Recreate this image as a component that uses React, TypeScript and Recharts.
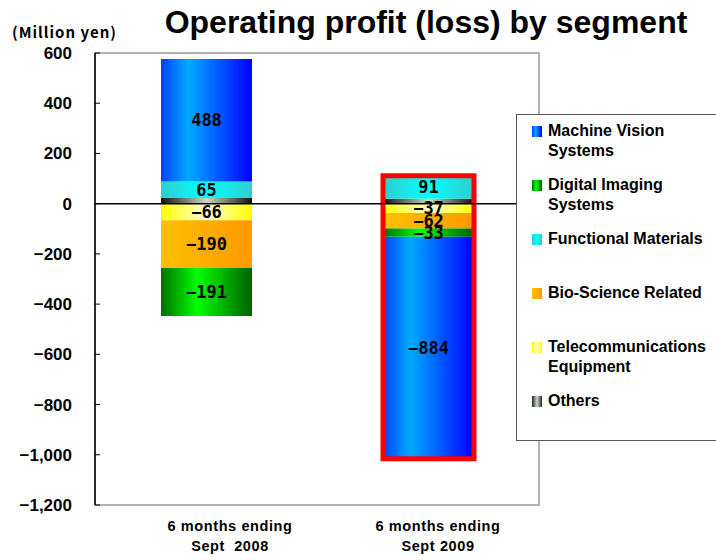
import React from "react";
import { Bar, BarChart, LabelList, ReferenceArea, ReferenceLine, XAxis, YAxis } from "recharts";

const periodLine1 = ["6 months ending", "6 months ending"];
const periodLine2 = ["Sept\u00a0\u00a02008", "Sept 2009"];
const periods = ["H1 FY2008", "H1 FY2009"];

const machineVision = [488, -884];
const digitalImaging = [-191, -33];
const functionalMaterials = [65, 91];
const bioScience = [-190, -62];
const telecom = [-66, -37];
const others = [23, 20];

const highlighted = 1;
const yTicks = [600, 400, 200, 0, -200, -400, -600, -800, -1000, -1200];

const legendItems = [
  { key: "mv", label: ["Machine Vision", "Systems"], bg: "linear-gradient(90deg,#0040ff,#00aaff 35%,#0000ff)" },
  { key: "di", label: ["Digital Imaging", "Systems"], bg: "linear-gradient(90deg,#007000,#00ff00 40%,#006000)" },
  { key: "fm", label: ["Functional Materials"], bg: "linear-gradient(90deg,#33cccc,#00ffff 50%,#33cccc)" },
  { key: "bio", label: ["Bio-Science Related"], bg: "linear-gradient(90deg,#ffc000,#ff9900)" },
  { key: "tel", label: ["Telecommunications", "Equipment"], bg: "linear-gradient(90deg,#ffff00,#ffffcc 50%,#ffff00)" },
  { key: "oth", label: ["Others"], bg: "linear-gradient(90deg,#222,#c8dcc0 50%,#222)" },
];
const legendTops = [125, 179, 233, 287, 341, 395];

const data = periods.map((p, i) => {
  const vals = [machineVision[i], digitalImaging[i], functionalMaterials[i], bioScience[i], telecom[i], others[i]];
  const pos = vals.filter((v) => v > 0).reduce((a, b) => a + b, 0);
  const neg = vals.filter((v) => v < 0).reduce((a, b) => a + b, 0);
  return {
    period: p,
    mv: machineVision[i],
    di: digitalImaging[i],
    fm: functionalMaterials[i],
    bio: bioScience[i],
    tel: telecom[i],
    oth: others[i],
    frame: i === highlighted ? [neg, pos] : null,
  };
});

const fmt = (v: number) => (v < 0 ? "\u2212" : "") + Math.abs(v).toLocaleString("en-US");

const labelStyle = {
  fill: "#000",
  fontSize: 17,
  fontWeight: "bold",
  fontFamily: "DejaVu Sans Mono",
};

const tickDx = [24, 10];

const CategoryTick = (props: any) => {
  const { x, y, index } = props;
  const cx = x + tickDx[index];
  return (
    <text
      x={cx}
      y={y}
      textAnchor="middle"
      fontFamily="Liberation Sans, Arial"
      fontWeight="bold"
      fontSize={14.5}
      letterSpacing={0.6}
      fill="#000"
    >
      <tspan x={cx} dy={18}>{periodLine1[index]}</tspan>
      <tspan x={cx} dy={20}>{periodLine2[index]}</tspan>
    </text>
  );
};

const grad = (id: string, stops: [string, string][]) => (
  <linearGradient id={id} x1="0" y1="0" x2="1" y2="0">
    {stops.map(([o, c]) => (
      <stop key={o} offset={o} stopColor={c} />
    ))}
  </linearGradient>
);

export default function App() {
  return (
    <div style={{ position: "relative", width: 716, height: 560, background: "#fff" }}>
      <style>{"body{margin:0}"}</style>
      <BarChart
        width={716}
        height={560}
        data={data}
        stackOffset="sign"
        margin={{ top: 53, right: 177, left: 0, bottom: 0 }}
      >
        <defs>
          {grad("gMv", [["0", "#0040ff"], ["0.3", "#00aaff"], ["1", "#0000ff"]])}
          {grad("gDi", [["0", "#007000"], ["0.4", "#00ff00"], ["1", "#006000"]])}
          {grad("gFm", [["0", "#33cccc"], ["0.5", "#00ffff"], ["1", "#33cccc"]])}
          {grad("gBio", [["0", "#ffc000"], ["1", "#ff9900"]])}
          {grad("gTel", [["0", "#ffff00"], ["0.5", "#ffffcc"], ["1", "#ffff00"]])}
          {grad("gOth", [["0", "#111111"], ["0.5", "#c8dcc0"], ["1", "#111111"]])}
        </defs>
        <ReferenceArea x1={periods[0]} x2={periods[1]} y1={-1200} y2={600} fill="none" stroke="#999" strokeWidth={1.5} />
        <XAxis dataKey="period" height={55} axisLine={false} tickLine={false} tick={<CategoryTick />} interval={0} />
        <XAxis dataKey="period" xAxisId="frame" hide />
        <YAxis
          width={95}
          domain={[-1200, 600]}
          ticks={yTicks}
          interval={0}
          tickFormatter={fmt}
          tickSize={-5}
          tickMargin={28}
          axisLine={{ stroke: "#000", strokeWidth: 1.5 }}
          tickLine={{ stroke: "#000" }}
          tick={{ fill: "#000", fontSize: 17, fontWeight: "bold", fontFamily: "Liberation Sans, Arial" }}
        />
        <Bar dataKey="oth" stackId="s" fill="url(#gOth)" barSize={91} isAnimationActive={false} />
        <Bar dataKey="fm" stackId="s" fill="url(#gFm)" barSize={91} isAnimationActive={false}>
          <LabelList dataKey="fm" position="center" formatter={fmt} {...labelStyle} />
        </Bar>
        <Bar dataKey="tel" stackId="s" fill="url(#gTel)" barSize={91} isAnimationActive={false}>
          <LabelList dataKey="tel" position="center" formatter={fmt} {...labelStyle} />
        </Bar>
        <Bar dataKey="bio" stackId="s" fill="url(#gBio)" barSize={91} isAnimationActive={false}>
          <LabelList dataKey="bio" position="center" formatter={fmt} {...labelStyle} />
        </Bar>
        <Bar dataKey="di" stackId="s" fill="url(#gDi)" barSize={91} isAnimationActive={false}>
          <LabelList dataKey="di" position="center" formatter={fmt} {...labelStyle} />
        </Bar>
        <Bar dataKey="mv" stackId="s" fill="url(#gMv)" barSize={91} isAnimationActive={false}>
          <LabelList dataKey="mv" position="center" formatter={fmt} {...labelStyle} />
        </Bar>
        <ReferenceLine y={0} stroke="#000" strokeWidth={1.5} />
        <Bar
          dataKey="frame"
          xAxisId="frame"
          fill="none"
          stroke="#ff0000"
          strokeWidth={5}
          barSize={91}
          isAnimationActive={false}
        />
      </BarChart>

      <svg width={716} height={60} style={{ position: "absolute", left: 0, top: 0, pointerEvents: "none" }}>
        <text x={426} y={33} textAnchor="middle" fontFamily="Liberation Sans, Arial" fontWeight="bold" fontSize={32} fill="#000">
          Operating profit (loss) by segment
        </text>
        <text x={12} y={38} fontFamily="Noto Sans CJK JP" fontWeight="bold" fontSize={15} letterSpacing={1} fill="#000">
          (Million yen)
        </text>
      </svg>

      <div
        style={{
          position: "absolute",
          left: 516,
          top: 114,
          width: 220,
          height: 327,
          border: "1.5px solid #555",
          background: "#fff",
          boxSizing: "border-box",
          fontFamily: "Liberation Sans, Arial",
          fontWeight: "bold",
          fontSize: 16,
          color: "#000",
        }}
      >
        {legendItems.map((it, i) => (
          <div key={it.key} style={{ position: "absolute", left: 15, top: legendTops[i] - 114 - 5, lineHeight: "20px" }}>
            <span
              style={{
                position: "absolute",
                left: 0,
                top: 5,
                width: 10,
                height: 11,
                background: it.bg,
              }}
            />
            <div style={{ marginLeft: 16 }}>
              {it.label.map((l) => (
                <div key={l}>{l}</div>
              ))}
            </div>
          </div>
        ))}
      </div>
    </div>
  );
}
